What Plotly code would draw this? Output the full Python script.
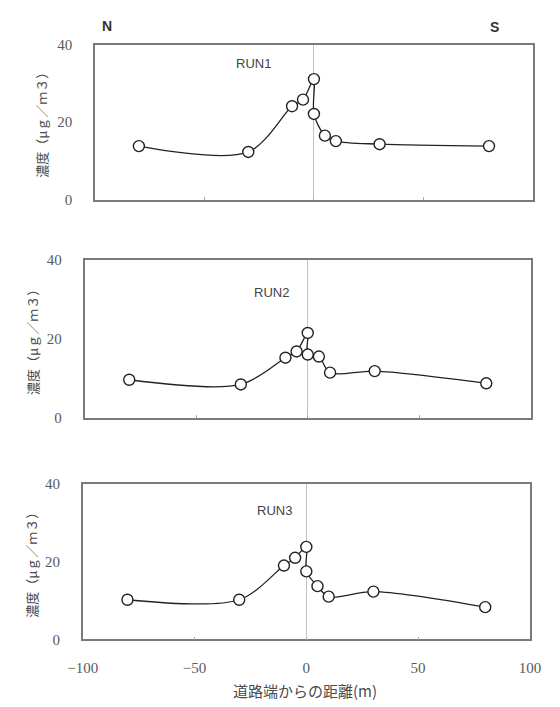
import plotly.graph_objects as go

# ---- data ----
distance = [-80, -30, -10, -5, 0, 0, 5, 10, 30, 80]
run1 = [13.8, 12.3, 24.1, 25.8, 31.1, 22.1, 16.5, 15.1, 14.3, 13.8]
run2 = [9.6, 8.4, 15.2, 16.8, 21.5, 16.0, 15.5, 11.4, 11.8, 8.7]
run3 = [10.2, 10.2, 19.0, 21.0, 23.8, 17.5, 13.7, 11.0, 12.3, 8.3]
run_names = ["RUN1", "RUN2", "RUN3"]
x_ticks = [-100, -50, 0, 50, 100]
y_ticks = [0, 20, 40]
y_title = "濃度（μｇ／ｍ３）"
x_title = "道路端からの距離(m)"

W, H = 560, 707

# panel boxes in pixels (left, right, top, bottom)
boxes = [(84, 543, 37.5, 196), (73, 541, 258, 419), (71, 540, 487, 646)]

fig = go.Figure()
series = [run1, run2, run3]
for i, ys in enumerate(series):
    fig.add_trace(go.Scatter(
        x=distance, y=ys, mode="lines+markers",
        xaxis="x" if i == 0 else f"x{i+1}",
        yaxis="y" if i == 0 else f"y{i+1}",
        line=dict(color="#222222", width=1.3, shape="spline", smoothing=0.9),
        marker=dict(symbol="circle", size=11, color="white",
                    line=dict(color="#222222", width=1.4)),
        showlegend=False, cliponaxis=False,
    ))

layout = dict(width=W, height=H, margin=dict(l=0, r=0, t=0, b=0),
              paper_bgcolor="white", plot_bgcolor="white")

tickfont = dict(family="Liberation Serif", size=15, color="#5a5a5a")
for i, (l, r, t, b) in enumerate(boxes):
    sx = "" if i == 0 else str(i + 1)
    layout["xaxis" + sx] = dict(
        domain=[l / W, r / W], range=[-100, 100], anchor="y" + sx,
        tickvals=x_ticks, showticklabels=(i == 2), tickfont=tickfont,
        ticks="inside", ticklen=3, tickcolor="#aaaaaa",
        ticklabelstandoff=14,
        showgrid=False, zeroline=True, zerolinecolor="#c4c4c4", zerolinewidth=1,
        showline=True, linecolor="#7a7a7a", linewidth=1.6, mirror=True,
        fixedrange=True,
    )
    layout["yaxis" + sx] = dict(
        domain=[1 - b / H, 1 - t / H], range=[0, 40], anchor="x" + sx,
        tickvals=y_ticks, tickfont=tickfont, ticks="",
        ticklabelstandoff=18,
        showgrid=False, zeroline=False,
        showline=True, linecolor="#7a7a7a", linewidth=1.6, mirror=True,
        fixedrange=True,
    )

fig.update_layout(**layout)

ann = []
ytitle_x = [27, 19, 18]
run_pos = [(250, 57), (269, 291), (272, 514)]
for i, (l, r, t, b) in enumerate(boxes):
    ann.append(dict(x=ytitle_x[i] / W, y=1 - ((t + b) / 2) / H, xref="paper", yref="paper",
                    text=y_title, textangle=-90, showarrow=False,
                    font=dict(family="Noto Sans CJK JP", size=13, color="#4a4a4a"),
                    xanchor="center", yanchor="middle"))
    ann.append(dict(x=run_pos[i][0] / W, y=1 - run_pos[i][1] / H, xref="paper", yref="paper",
                    text=run_names[i], showarrow=False,
                    font=dict(family="Liberation Sans", size=13, color="#444444"),
                    xanchor="center", yanchor="middle"))
ann.append(dict(x=97 / W, y=1 - 18 / H, xref="paper", yref="paper", text="<b>N</b>",
                showarrow=False, font=dict(family="Liberation Sans", size=14, color="#333333"),
                xanchor="center", yanchor="middle"))
ann.append(dict(x=503 / W, y=1 - 19 / H, xref="paper", yref="paper", text="<b>S</b>",
                showarrow=False, font=dict(family="Liberation Sans", size=14, color="#333333"),
                xanchor="center", yanchor="middle"))
ann.append(dict(x=304 / W, y=1 - 698 / H, xref="paper", yref="paper", text=x_title,
                showarrow=False, font=dict(family="Noto Sans CJK JP", size=15, color="#4a4a4a"),
                xanchor="center", yanchor="middle"))
fig.update_layout(annotations=ann)

fig.write_html("out.html")
